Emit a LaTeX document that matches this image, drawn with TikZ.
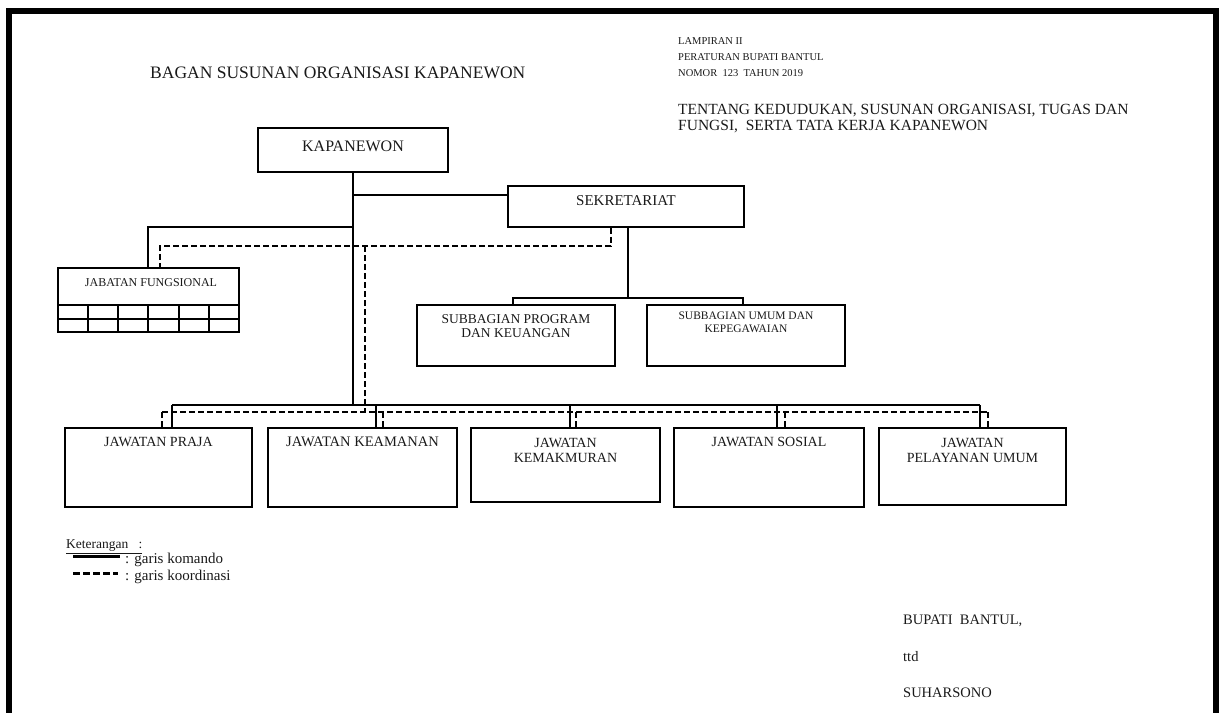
\documentclass[tikz,border=0pt]{standalone}
\usepackage{fontspec}
\setmainfont{Liberation Serif}
\usetikzlibrary{calc}
\newcommand{\fsz}[1]{\fontsize{#1}{#1}\selectfont}
\begin{document}
\begin{tikzpicture}[x=1pt,y=-1pt,
  box/.style={draw=black, line width=1.6pt, inner sep=0pt},
  cmd/.style={draw=black, line width=2pt},
  crd/.style={draw=black, line width=2pt, dash pattern=on 6pt off 3pt},
  txt/.style={text=black!90, inner sep=0pt, align=center},
  ltxt/.style={text=black!90, inner sep=0pt, anchor=west, align=left}]
\useasboundingbox (0,0) rectangle (1219,713);
% page border
\fill[black] (6,8) rectangle (1219,14);
\fill[black] (6,8) rectangle (12,713);
\fill[black] (1213,8) rectangle (1219,713);
% header texts
\node[ltxt, font=\fsz{17.5}] (title) at (150,73) {BAGAN SUSUNAN ORGANISASI KAPANEWON};
\node[ltxt, font=\fsz{10.5}] (lamp1) at (678,41) {LAMPIRAN II};
\node[ltxt, font=\fsz{10.5}] (lamp2) at (678,57) {PERATURAN BUPATI BANTUL};
\node[ltxt, font=\fsz{10.5}] (lamp3) at (678,73) {NOMOR\ \ 123\ \ TAHUN 2019};
\node[ltxt, font=\fsz{15.5}] (tent1) at (678,111) {TENTANG KEDUDUKAN, SUSUNAN ORGANISASI, TUGAS DAN};
\node[ltxt, font=\fsz{15.5}] (tent2) at (678,127) {FUNGSI,\ \ SERTA TATA KERJA KAPANEWON};
% boxes
\node[box, minimum width=190pt, minimum height=44pt] (kap) at (353,150) {};
\node[txt, font=\fsz{16}] (kapt) at (353,146) {KAPANEWON};
\node[box, minimum width=236pt, minimum height=41pt] (sek) at (626,206.5) {};
\node[txt, font=\fsz{15}] (sekt) at (626,201) {SEKRETARIAT};
\node[box, minimum width=181pt, minimum height=64pt] (jf) at (148.5,300) {};
\node[txt, font=\fsz{12}] (jft) at (151,283) {JABATAN FUNGSIONAL};
\node[box, minimum width=198pt, minimum height=61pt] (sp) at (516,335.5) {};
\node[txt, font=\fsz{13.5}] (spt) at (516,326) {SUBBAGIAN PROGRAM\\[1pt]DAN KEUANGAN};
\node[box, minimum width=198pt, minimum height=61pt] (su) at (746,335.5) {};
\node[txt, font=\fsz{11.5}] (sut) at (746,322.5) {SUBBAGIAN UMUM DAN\\[2pt]KEPEGAWAIAN};
% grid of jabatan fungsional
\draw[line width=1.6pt] (jf.west |- 0,305) -- (jf.east |- 0,305);
\draw[line width=1.6pt] (jf.west |- 0,319) -- (jf.east |- 0,319);
\foreach \gx in {88,118,148,179,209} \draw[line width=1.6pt] (\gx,305) -- (\gx,332);
% jawatan boxes
\node[box, minimum width=187pt, minimum height=79pt] (praja) at (158.5,467.5) {};
\node[txt, font=\fsz{14}] (prajat) at (158.5,442) {JAWATAN PRAJA};
\node[box, minimum width=189pt, minimum height=79pt] (keam) at (362.5,467.5) {};
\node[txt, font=\fsz{14.5}] (keamt) at (362.5,442) {JAWATAN KEAMANAN};
\node[box, minimum width=189pt, minimum height=74pt] (kemak) at (565.5,465) {};
\node[txt, font=\fsz{14}] (kemakt) at (565.5,450) {JAWATAN\\[1pt]KEMAKMURAN};
\node[box, minimum width=190pt, minimum height=79pt] (sos) at (769,467.5) {};
\node[txt, font=\fsz{14}] (sost) at (769,442) {JAWATAN SOSIAL};
\node[box, minimum width=187pt, minimum height=77pt] (pel) at (972.5,466.5) {};
\node[txt, font=\fsz{14}] (pelt) at (972.5,450) {JAWATAN\\[1pt]PELAYANAN UMUM};
% command lines
\coordinate (trunkb) at (353,405);
\coordinate (sekin) at (508,195);
\coordinate (jfj) at (148,227);
\draw[cmd] (kap.south) -- (trunkb);
\draw[cmd] (kap.south |- sekin) -- (sekin);
\draw[cmd] (kap.south |- jfj) -- (jfj) -- (jfj |- jf.north);
\coordinate (sbm) at (628,298);
\coordinate (sbL) at (513,298);
\coordinate (sbR) at (743,298);
\draw[cmd] (sbm |- sek.south) -- (sbm);
\draw[cmd] (sbL |- sp.north) -- (sbL) -- (sbR) -- (sbR |- su.north);
% coordination lines
\coordinate (sekd) at (611,246);
\coordinate (jfd) at (160,246);
\coordinate (kd) at (365,246);
\draw[crd] (sekd |- sek.south) -- (sekd) -- (jfd) -- (jfd |- jf.north);
\draw[crd] (kd) -- (365,412);
% buses to jawatan
\foreach \n/\s/\d in {praja/172/162, keam/376/383, kemak/570/576, sos/777/785, pel/980/988} {
  \coordinate (s\n) at (\s,405);
  \coordinate (d\n) at (\d,412);
  \draw[cmd] (s\n) -- (s\n |- \n.north);
  \draw[crd] (d\n) -- (d\n |- \n.north);
}
\draw[cmd] (spraja) -- (spel);
\draw[crd] (dpraja) -- (dpel);
% legend
\node[ltxt, font=\fsz{13.5}] (ket) at (66,547) {\underline{Keterangan\ \ \ :}};
\coordinate (l1a) at (73,556); \coordinate (l1b) at (120,556);
\coordinate (l2a) at (73,573); \coordinate (l2b) at (118,573);
\draw[line width=3pt] (l1a) -- (l1b);
\draw[line width=3pt, dash pattern=on 7pt off 3pt] (l2a) -- (l2b);
\node[ltxt, font=\fsz{15}] (lk) at (125,560) {: garis komando};
\node[ltxt, font=\fsz{15}] (lc) at (125,577) {: garis koordinasi};
% signature
\node[ltxt, font=\fsz{14.5}] (bup) at (903,621) {BUPATI\ \ BANTUL,};
\node[ltxt, font=\fsz{14.5}] (ttd) at (903,657) {ttd};
\node[ltxt, font=\fsz{14.5}] (suh) at (903,693) {SUHARSONO};
\end{tikzpicture}
\end{document}
